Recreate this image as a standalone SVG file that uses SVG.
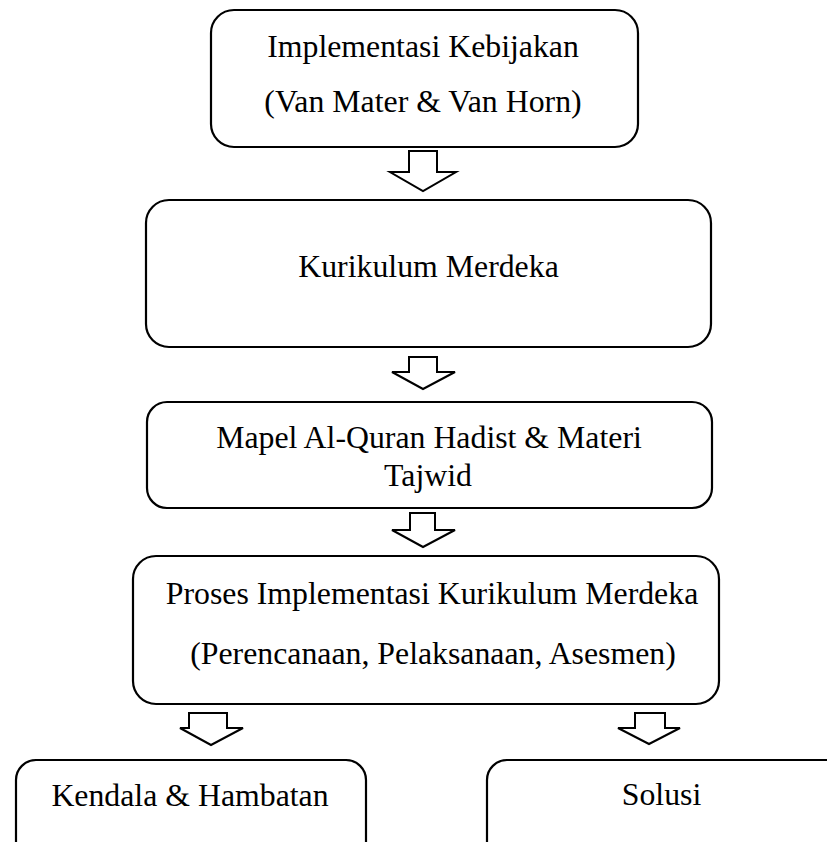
<svg xmlns="http://www.w3.org/2000/svg" width="827" height="842" viewBox="0 0 827 842">
<style>
.box{fill:#fff;stroke:#000;stroke-width:2.2}
.arr{fill:#fff;stroke:#000;stroke-width:2;stroke-linejoin:miter}
text{font-family:"Liberation Serif","Times New Roman",serif;font-size:31.8px;fill:#000;text-anchor:middle}
</style>
<rect width="827" height="842" fill="#fff"/>
<g id="connectors">
<polygon class="arr" points="409,151 437,151 437,172 456,172 423,191 390,172 409,172"/>
<polygon class="arr" points="409,357 437,357 437,372 455,372 423,389 392,372 409,372"/>
<polygon class="arr" points="410,513 435,513 435,530 455,530 423,547 392,530 410,530"/>
<polygon class="arr" points="189,713 227,713 227,728 243,728 211,745 180,728 189,728"/>
<polygon class="arr" points="635,713 665,713 665,728 680,728 649,744 618,728 635,728"/>
</g>
<g id="n1">
<rect class="box" x="211" y="10" width="427" height="137" rx="23"/>
<text x="423" y="57">Implementasi Kebijakan</text>
<text x="423" y="112">(Van Mater &amp; Van Horn)</text>
</g>
<g id="n2">
<rect class="box" x="146" y="200" width="565" height="147" rx="23"/>
<text x="428.5" y="277">Kurikulum Merdeka</text>
</g>
<g id="n3">
<rect class="box" x="147" y="402" width="565" height="106" rx="20"/>
<text x="429" y="448">Mapel Al-Quran Hadist &amp; Materi</text>
<text x="428" y="486">Tajwid</text>
</g>
<g id="n4">
<rect class="box" x="133" y="556" width="586" height="148" rx="23"/>
<text x="432" y="604">Proses Implementasi Kurikulum Merdeka</text>
<text x="433" y="664">(Perencanaan, Pelaksanaan, Asesmen)</text>
</g>
<g id="n5">
<rect class="box" x="16" y="760" width="350" height="110" rx="20"/>
<text x="190" y="806">Kendala &amp; Hambatan</text>
</g>
<g id="n6">
<rect class="box" x="487" y="760" width="360" height="110" rx="20"/>
<text x="661.5" y="805">Solusi</text>
</g>
</svg>
